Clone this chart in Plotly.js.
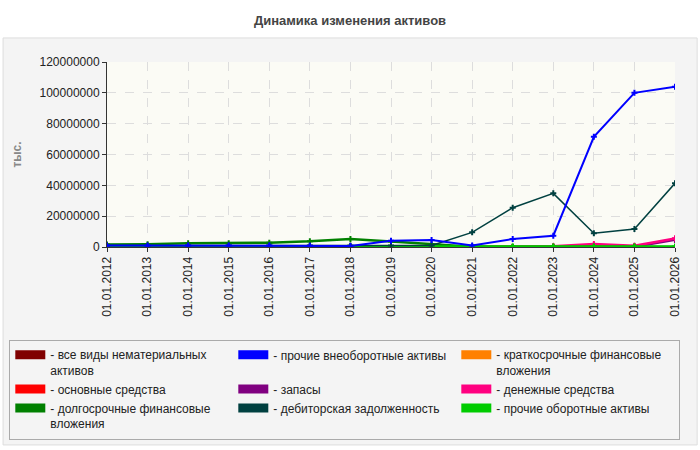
<!DOCTYPE html>
<html>
<head>
<meta charset="utf-8">
<script src="https://cdn.plot.ly/plotly-3.0.1.min.js"></script>
<style>
  html, body { margin: 0; padding: 0; background: #ffffff; }
  #chart { width: 700px; height: 450px; }
</style>
</head>
<body>
<div id="chart"></div>
<script>
// даты отчётности
var dates = ['01.01.2012', '01.01.2013', '01.01.2014', '01.01.2015', '01.01.2016',
  '01.01.2017', '01.01.2018', '01.01.2019', '01.01.2020', '01.01.2021',
  '01.01.2022', '01.01.2023', '01.01.2024', '01.01.2025', '01.01.2026'];

// значения, тыс.
var nematerialnye = [0, 0, 0, 0, 0, 0, 0, 0, 0, 0, 0, 0, 200000, 200000, 0];
var osnovnye = [0, 0, 0, 0, 0, 0, 0, 0, 0, 0, 0, 300000, 1200000, 500000, 5000000];
var dolgosrochnye = [1700000, 1800000, 2400000, 2500000, 2800000, 3700000, 5200000, 3500000,
  2000000, 200000, 100000, 100000, 100000, 100000, 0];
var prochieVneob = [900000, 900000, 900000, 900000, 900000, 800000, 700000, 4000000,
  4500000, 1000000, 5200000, 7300000, 71500000, 100000000, 104000000];
var zapasy = [0, 0, 0, 0, 0, 100000, 100000, 0, 0, 0, 0, 0, 0, 0, 4500000];
var debitorskaya = [1000000, 1000000, 1000000, 1000000, 1000000, 1000000, 1000000, 1000000,
  1000000, 9500000, 25500000, 34800000, 8900000, 11700000, 41300000];
var kratkosrochnye = [0, 0, 0, 0, 0, 0, 0, 0, 0, 0, 0, 0, 0, 0, 0];
var denezhnye = [0, 0, 0, 0, 0, 0, 0, 0, 0, 0, 0, 500000, 2000000, 800000, 5600000];
var prochieOborot = [400000, 400000, 400000, 400000, 400000, 400000, 400000, 400000,
  400000, 400000, 400000, 400000, 400000, 400000, 400000];

var yTicks = [0, 20000000, 40000000, 60000000, 80000000, 100000000, 120000000];

// порядок рисования (последние поверх)
var series = [
  {name: 'все виды нематериальных<br>активов', y: nematerialnye, color: '#800000', w: 2},
  {name: 'основные средства', y: osnovnye, color: '#ff0000', w: 2},
  {name: 'краткосрочные финансовые<br>вложения', y: kratkosrochnye, color: '#ff8000', w: 2},
  {name: 'запасы', y: zapasy, color: '#800080', w: 2},
  {name: 'денежные средства', y: denezhnye, color: '#ff0080', w: 2.5},
  {name: 'долгосрочные финансовые<br>вложения', y: dolgosrochnye, color: '#008000', w: 2.5},
  {name: 'прочие оборотные активы', y: prochieOborot, color: '#00cc00', w: 2.5},
  {name: 'дебиторская задолженность', y: debitorskaya, color: '#004040', w: 1.5},
  {name: 'прочие внеоборотные активы', y: prochieVneob, color: '#0000ff', w: 2}
];

var data = series.map(function (s) {
  return {
    x: dates,
    y: s.y,
    type: 'scatter',
    mode: 'lines+markers',
    name: s.name,
    showlegend: false,
    hoverinfo: 'none',
    line: {color: s.color, width: s.w},
    marker: {color: s.color, symbol: 'cross', size: 5}
  };
});

// легенда в три колонки (по строкам)
var legendOrder = [
  ['все виды нематериальных<br>активов', '#800000'],
  ['прочие внеоборотные активы', '#0000ff'],
  ['краткосрочные финансовые<br>вложения', '#ff8000'],
  ['основные средства', '#ff0000'],
  ['запасы', '#800080'],
  ['денежные средства', '#ff0080'],
  ['долгосрочные финансовые<br>вложения', '#008000'],
  ['дебиторская задолженность', '#004040'],
  ['прочие оборотные активы', '#00cc00']
];
legendOrder.forEach(function (l) {
  data.push({
    x: [null], y: [null],
    type: 'scatter',
    mode: 'lines',
    name: '- ' + l[0],
    line: {color: l[1], width: 9},
    hoverinfo: 'none'
  });
});

var layout = {
  width: 700,
  height: 450,
  font: {family: 'Liberation Sans, Arial, sans-serif', size: 12, color: '#222'},
  paper_bgcolor: '#ffffff',
  plot_bgcolor: 'rgba(0,0,0,0)',
  margin: {l: 107, r: 25, t: 62, b: 203, autoexpand: false},
  title: {
    text: '<b>Динамика изменения активов</b>',
    font: {size: 13, color: '#444'},
    x: 0.5, xref: 'container',
    y: 1 - 20 / 450, yref: 'container', yanchor: 'middle'
  },
  xaxis: {
    type: 'category',
    range: [0, 14],
    tickangle: -90,
    ticks: 'outside',
    ticklen: 4,
    tickcolor: '#333',
    showline: true,
    linecolor: '#333',
    showgrid: true,
    gridcolor: '#dddddd',
    griddash: 'dash',
    zeroline: false,
    tickfont: {size: 12, color: '#222'}
  },
  yaxis: {
    range: [0, 120000000],
    tickvals: yTicks,
    ticktext: yTicks.map(String),
    ticks: 'outside',
    ticklen: 4,
    tickcolor: '#333',
    showline: true,
    linecolor: '#333',
    showgrid: true,
    gridcolor: '#dddddd',
    griddash: 'dash',
    zeroline: false,
    tickfont: {size: 12, color: '#222'}
  },
  showlegend: true,
  legend: {
    orientation: 'h',
    x: -0.172, xanchor: 'left',
    y: -0.50, yanchor: 'top',
    entrywidth: 178,
    valign: 'top',
    bgcolor: '#f4f4f4',
    bordercolor: '#aaaaaa',
    borderwidth: 1,
    itemwidth: 30,
    font: {size: 12, color: '#222'},
    tracegroupgap: 0
  },
  annotations: [{
    text: '<b>тыс.</b>',
    xref: 'paper', yref: 'paper',
    x: -0.160, y: 0.5,
    xanchor: 'center', yanchor: 'middle',
    textangle: -90,
    showarrow: false,
    font: {size: 12, color: '#888'}
  }],
  shapes: [
    {type: 'rect', xref: 'paper', yref: 'paper', layer: 'below',
      x0: -0.183, x1: 1.039, y0: -1.07, y1: 1.13,
      fillcolor: '#f4f4f4', line: {color: '#dddddd', width: 1}},
    {type: 'rect', xref: 'paper', yref: 'paper', layer: 'below',
      x0: 0, x1: 1, y0: 0, y1: 1,
      fillcolor: '#fbfbf5', line: {width: 0}}
  ]
};

var config = {displayModeBar: false, staticPlot: true};

Plotly.newPlot('chart', data, layout, config);
</script>
</body>
</html>
